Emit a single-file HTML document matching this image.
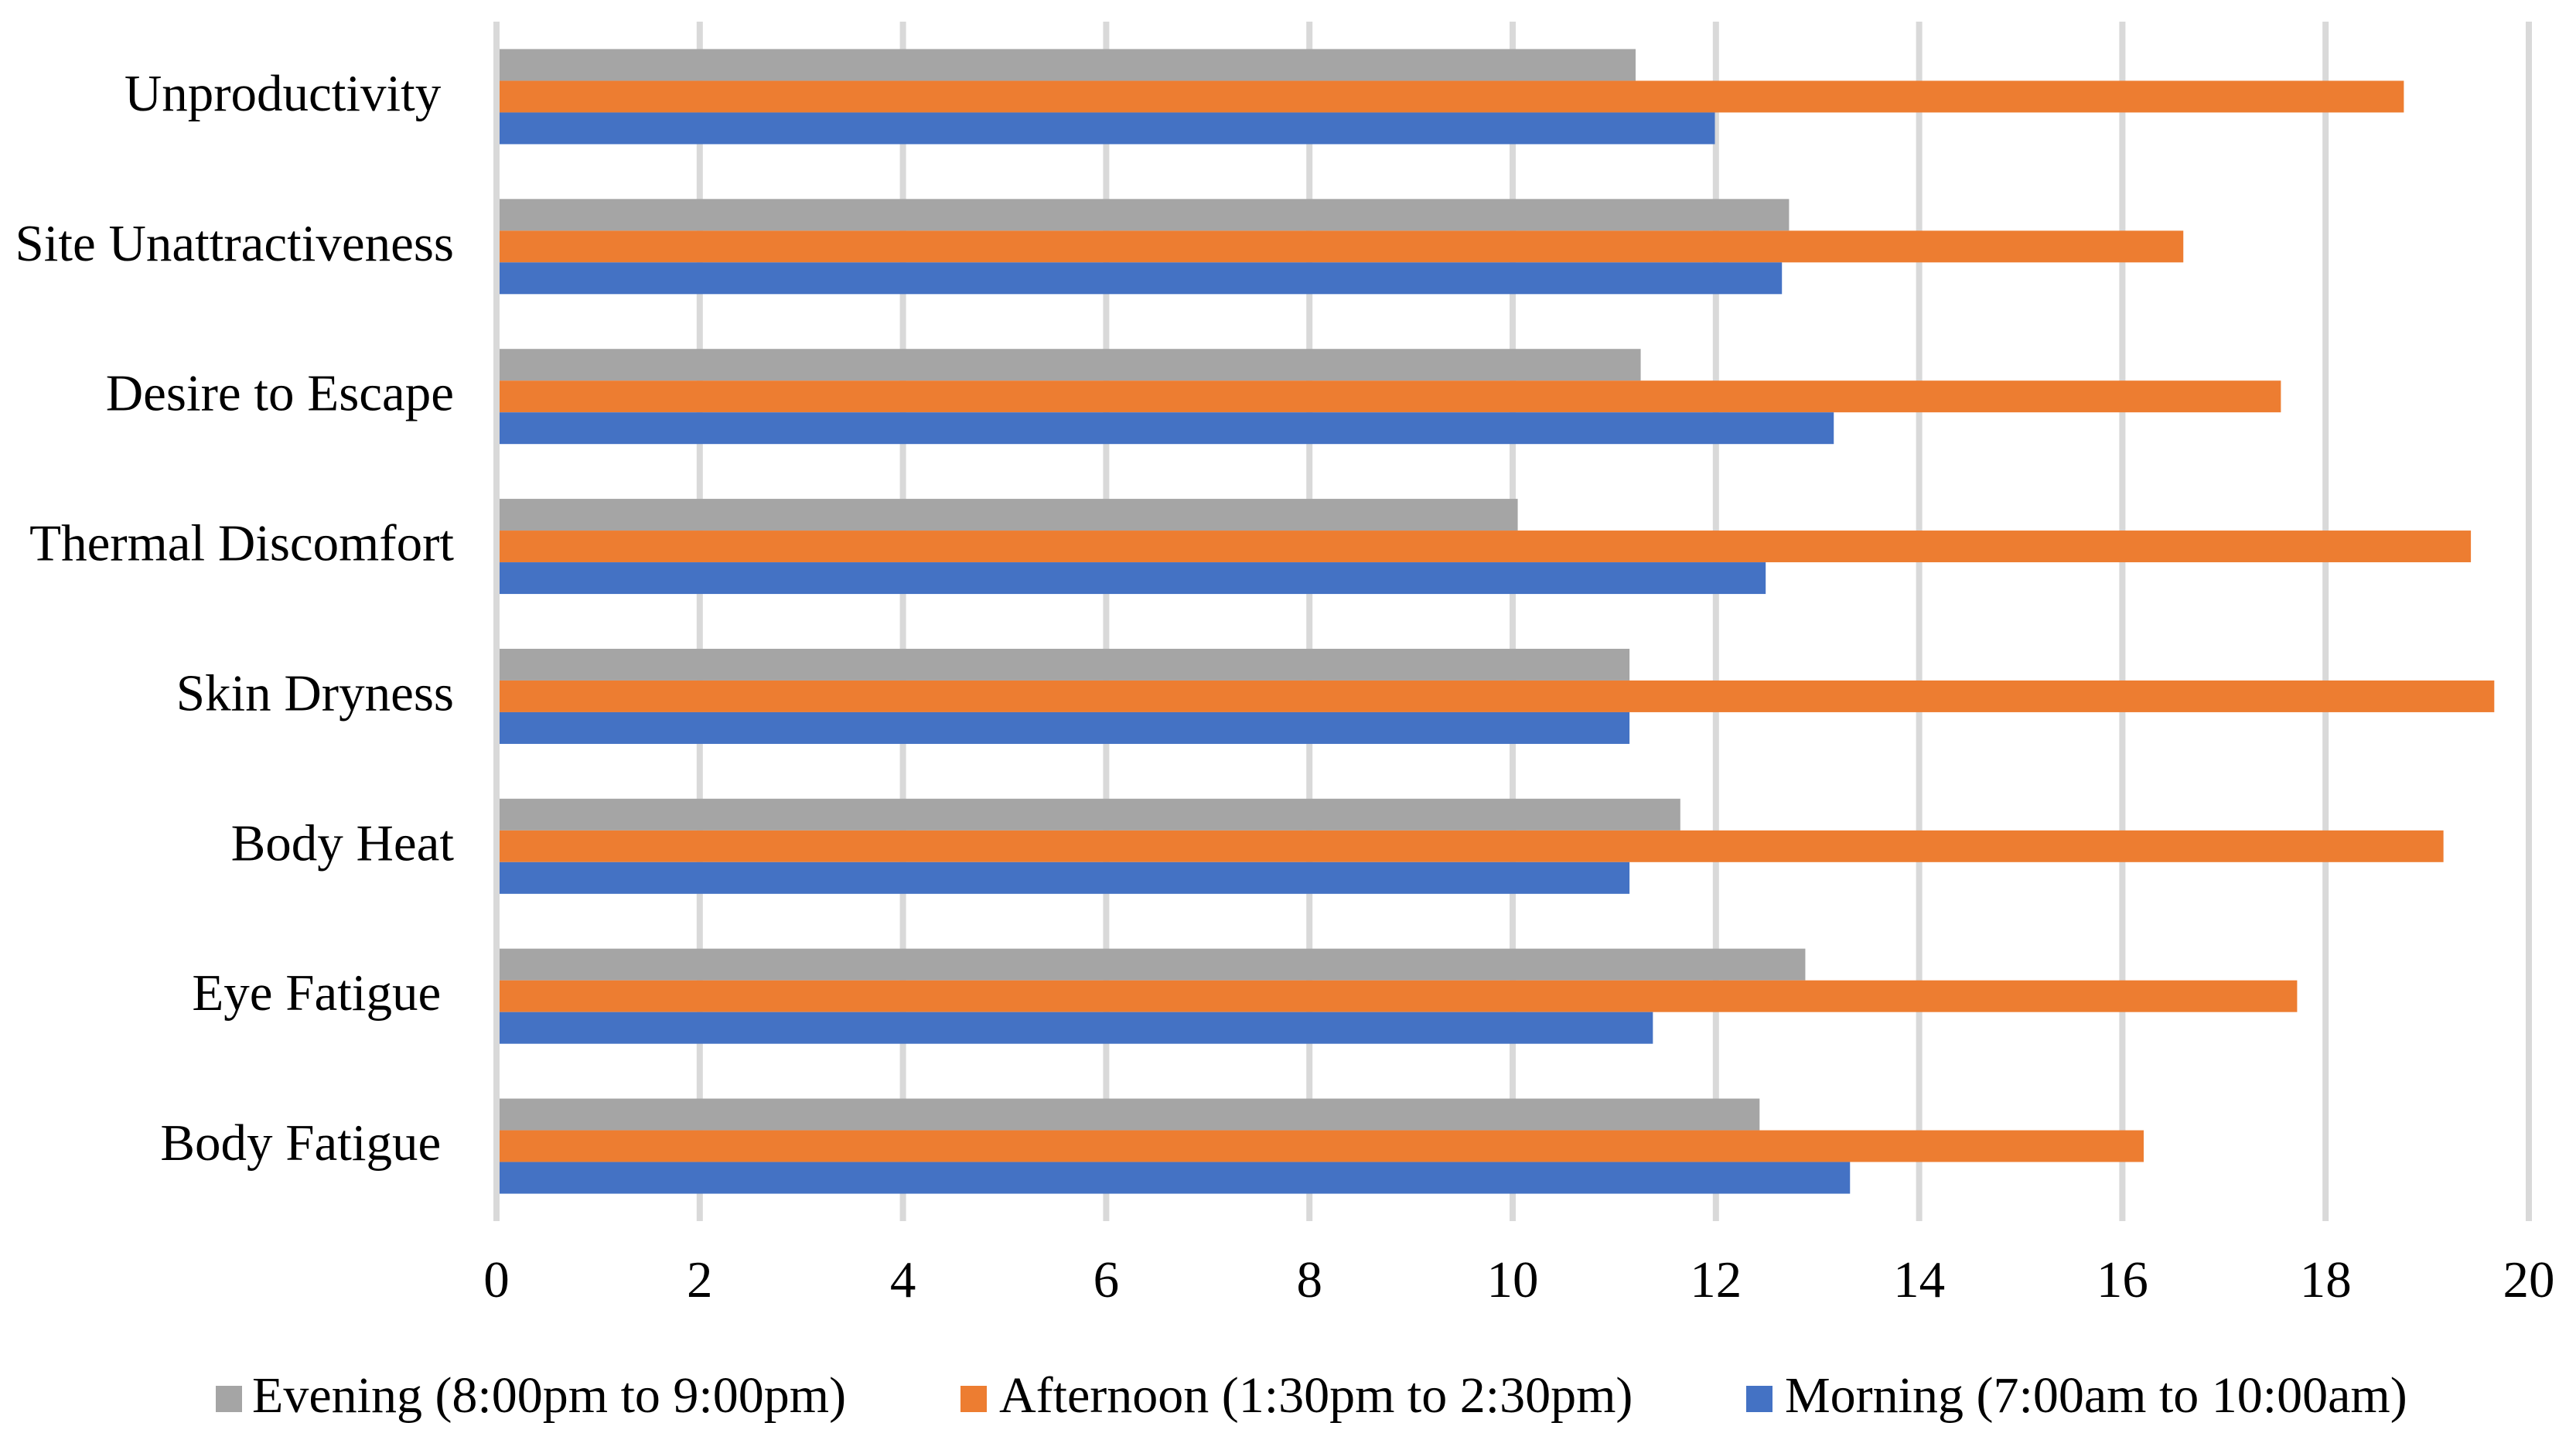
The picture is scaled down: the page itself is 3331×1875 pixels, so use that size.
<!DOCTYPE html>
<html><head><meta charset="utf-8"><style>
html,body{margin:0;padding:0;background:#fff;}
svg text{font-family:"Liberation Serif","Times New Roman",serif;fill:#000;}
</style></head><body>
<svg id="chart" width="3331" height="1870" viewBox="0 0 3331 1870" xmlns="http://www.w3.org/2000/svg">
<g id="grid"></g>
<g id="bars"></g>
<g id="ylabels"></g>
<g id="xlabels"></g>
<g id="legend">
  <rect x="279" y="1792" width="34" height="34" fill="#a5a5a5"/>
  <text x="326" y="1826" font-size="66">Evening (8:00pm to 9:00pm)</text>
  <rect x="1242" y="1792" width="34" height="34" fill="#ed7d31"/>
  <text x="1292" y="1826" font-size="66">Afternoon (1:30pm to 2:30pm)</text>
  <rect x="2258" y="1792" width="34" height="34" fill="#4472c4"/>
  <text x="2308" y="1826" font-size="66">Morning (7:00am to 10:00am)</text>
</g>
</svg>
<script>
const categories = ["Unproductivity ", "Site Unattractiveness", "Desire to Escape", "Thermal Discomfort", "Skin Dryness", "Body Heat", "Eye Fatigue ", "Body Fatigue "];
const evening = [11.21, 12.72, 11.26, 10.05, 11.15, 11.65, 12.88, 12.43];
const afternoon = [18.77, 16.6, 17.56, 19.43, 19.66, 19.16, 17.72, 16.21];
const morning = [11.99, 12.65, 13.16, 12.49, 11.15, 11.15, 11.38, 13.32];
const xTicks = [0, 2, 4, 6, 8, 10, 12, 14, 16, 18, 20];

const NS = "http://www.w3.org/2000/svg";
const x0 = 642, x1 = 3270, xMax = 20;
const plotTop = 28, plotBottom = 1579;
const bandH = (plotBottom - plotTop) / categories.length;
const barH = 41;
function xs(v){ return x0 + (x1 - x0) * v / xMax; }
function mk(tag, attrs){ const e = document.createElementNS(NS, tag); for (const k in attrs) e.setAttribute(k, attrs[k]); return e; }

const grid = document.getElementById('grid');
xTicks.forEach(t => {
  const l = mk('line', {x1: xs(t), x2: xs(t), y1: plotTop, y2: plotBottom, stroke: '#d9d9d9', 'stroke-width': 8});
  
  
  grid.appendChild(l);
  const tx = mk('text', {x: xs(t), y: 1677, 'font-size': 67, 'text-anchor': 'middle'});
  tx.textContent = t;
  
  
  document.getElementById('xlabels').appendChild(tx);
});

const series = [[evening, '#a5a5a5', 'evening'], [afternoon, '#ed7d31', 'afternoon'], [morning, '#4472c4', 'morning']];
const bars = document.getElementById('bars');
categories.forEach((c, i) => {
  const gTop = plotTop + i * bandH + (bandH - 3 * barH) / 2;
  series.forEach((s, j) => {
    const r = mk('rect', {x: xs(0) + 4, y: gTop + j * barH, width: xs(s[0][i]) - xs(0) - 4, height: barH, fill: s[1]});
    
    
    bars.appendChild(r);
  });
  const lab = mk('text', {x: 587, y: plotTop + i * bandH + bandH / 2 + 18, 'font-size': 67, 'text-anchor': 'end'});
  lab.style.whiteSpace = 'pre';
  lab.textContent = c;
  
  
  document.getElementById('ylabels').appendChild(lab);
});
</script>
</body></html>
